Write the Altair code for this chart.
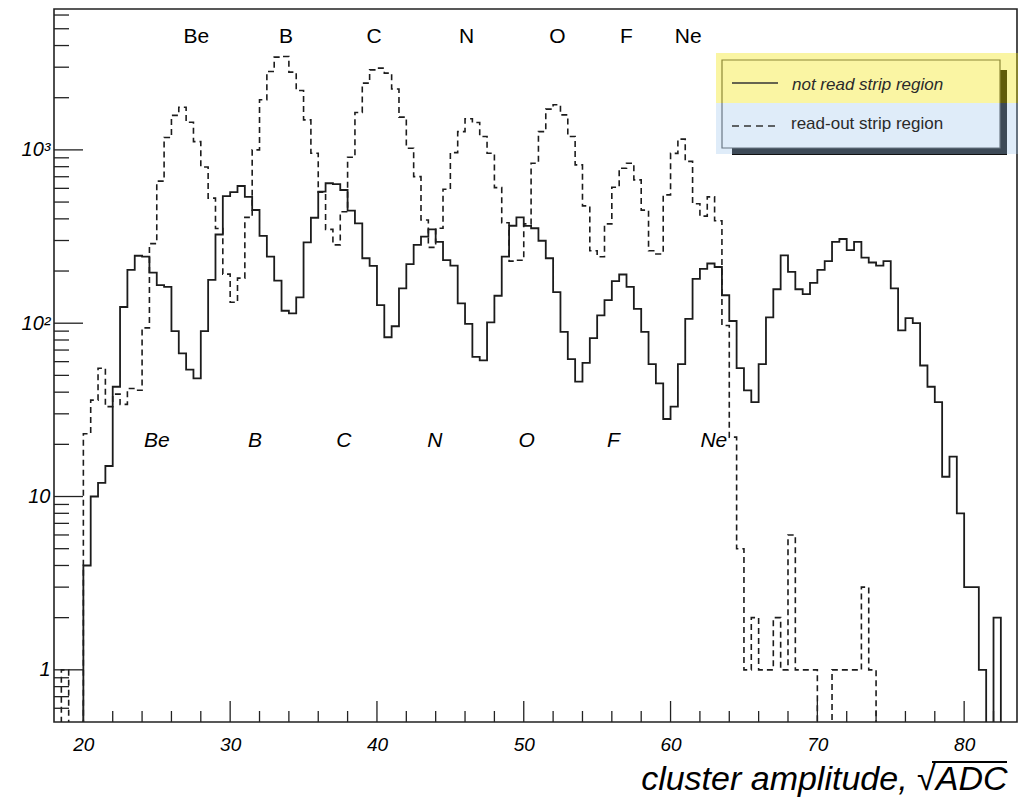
import altair as alt
import pandas as pd

# ---------------- data ----------------
BIN0 = 18.0
BINW = 0.5
solid_counts = [
    0, 0, 0, 0, 4, 10, 12, 15, 43, 124,
    203, 245, 242, 196, 166, 162, 90, 67, 54, 48,
    90, 178, 325, 541, 571, 619, 536, 450, 319, 242,
    176, 118, 114, 141, 293, 406, 574, 642, 634, 587,
    446, 377, 237, 214, 127, 83, 96, 159, 219, 283,
    316, 348, 295, 231, 215, 130, 99, 64, 61, 101,
    144, 242, 365, 408, 364, 353, 299, 237, 151, 89,
    62, 46, 59, 82, 111, 136, 175, 191, 162, 121,
    89, 58, 45, 28, 33, 58, 106, 180, 206, 221,
    211, 145, 103, 55, 41, 35, 58, 108, 157, 246,
    198, 157, 147, 171, 203, 228, 295, 306, 264, 295,
    239, 224, 215, 228, 159, 91, 107, 100, 57, 43,
    35, 13, 17, 8, 3, 3, 1, 0, 2, 0,
    0,
]
dashed_counts = [
    0, 1, 0, 0, 23, 36, 55, 33, 39, 34,
    42, 41, 94, 288, 660, 1178, 1582, 1761, 1443, 1116,
    796, 527, 352, 192, 132, 182, 408, 1000, 1945, 2833,
    3428, 3458, 2810, 2202, 1490, 957, 570, 348, 283, 440,
    907, 1643, 2428, 2897, 2964, 2773, 2244, 1545, 1023, 701,
    394, 274, 353, 593, 964, 1275, 1511, 1438, 1195, 957,
    606, 380, 228, 231, 374, 838, 1275, 1718, 1820, 1592,
    1195, 819, 475, 262, 242, 374, 609, 784, 838, 671,
    449, 262, 251, 550, 955, 1154, 858, 489, 415, 536,
    390, 97, 22, 5, 1, 2, 1, 1, 2, 1,
    6, 1, 1, 1, 0, 0, 1, 1, 1, 1,
    3, 1, 0, 0, 0, 0, 0, 0, 0, 0,
    0, 0, 0, 0, 0, 0, 0, 0, 0, 0,
    0,
]

top_labels = ["Be", "B", "C", "N", "O", "F", "Ne"]
top_x = [27.7, 33.8, 39.8, 46.1, 52.3, 57.0, 61.2]
top_y = 4500
bottom_labels = ["Be", "B", "C", "N", "O", "F", "Ne"]
bottom_x = [25.0, 31.7, 37.75, 43.95, 50.2, 56.1, 62.95]
bottom_y = 21

x_major = [20, 30, 40, 50, 60, 70, 80]
x_minor = [22, 24, 26, 28, 32, 34, 36, 38, 42, 44, 46, 48, 52, 54, 56, 58,
           62, 64, 66, 68, 72, 74, 76, 78, 82]
y_major = [1, 10, 100, 1000]
y_minor = [0.6, 0.7, 0.8, 0.9, 2, 3, 4, 5, 6, 7, 8, 9,
           20, 30, 40, 50, 60, 70, 80, 90,
           200, 300, 400, 500, 600, 700, 800, 900,
           2000, 3000, 4000, 5000, 6000]

legend_labels = ["not read strip region", "read-out strip region"]

# ---------------- layout ----------------
W, H = 963, 713
X_DOMAIN = [18, 83.6]
Y_DOMAIN = [0.5, 6500]
FONT = "Liberation Sans"


def hist_frame(counts):
    n = len(counts)
    xs = [BIN0 + BINW * i for i in range(n)] + [BIN0 + BINW * n]
    cs = list(counts) + [counts[-1]]
    return pd.DataFrame({"amp": xs, "count": cs})


xscale = alt.Scale(domain=X_DOMAIN, nice=False, zero=False)
yscale = alt.Scale(type="log", domain=Y_DOMAIN, nice=False)

xaxis = alt.Axis(
    values=x_major, ticks=False, domain=False, grid=False,
    labelFont=FONT, labelFontStyle="italic", labelFontSize=19, labelColor="black",
    labelPadding=13, labelFlush=False,
    title="cluster amplitude, √ADC", titleFont=FONT, titleFontStyle="italic",
    titleFontWeight="normal", titleFontSize=34, titleColor="black",
    titleAnchor="end", titleAlign="right", titleX=953, titleY=67,
    titleBaseline="alphabetic",
)
yaxis = alt.Axis(
    values=y_major, ticks=False, domain=False, grid=False,
    labelExpr="datum.value == 1000 ? '10³' : (datum.value == 100 ? '10²' : (datum.value == 10 ? '10' : '1'))",
    labelFont=FONT, labelFontStyle="italic", labelFontSize=20, labelColor="black",
    labelPadding=4, labelFlush=False, title="",
)


def X(field):
    return alt.X(field, scale=xscale, axis=xaxis)


def Y(field):
    return alt.Y(field, scale=yscale, axis=yaxis)


plot_y = "datum.count > 0 ? datum.count : 0.05"

solid = alt.Chart(hist_frame(solid_counts)).transform_calculate(
    v=plot_y
).mark_line(
    interpolate="step-after", clip=True, color="#1c1c1c", strokeWidth=1.8
).encode(x=X("amp:Q"), y=Y("v:Q"))

dashed = alt.Chart(hist_frame(dashed_counts)).transform_calculate(
    v=plot_y
).mark_line(
    interpolate="step-after", clip=True, color="#1c1c1c", strokeWidth=1.6,
    strokeDash=[6, 4],
).encode(x=X("amp:Q"), y=Y("v:Q"))

# inside ticks (ROOT style)
xmaj = alt.Chart(pd.DataFrame({"amp": x_major})).mark_rule(color="#222", strokeWidth=1.3).encode(
    x=X("amp:Q"), y=alt.value(H - 21), y2=alt.value(H))
xmin = alt.Chart(pd.DataFrame({"amp": x_minor})).mark_rule(color="#222", strokeWidth=1.3).encode(
    x=X("amp:Q"), y=alt.value(H - 11), y2=alt.value(H))
ymaj = alt.Chart(pd.DataFrame({"v": y_major})).mark_rule(color="#222", strokeWidth=1.3).encode(
    y=Y("v:Q"), x=alt.value(0), x2=alt.value(29))
ymin = alt.Chart(pd.DataFrame({"v": y_minor})).mark_rule(color="#222", strokeWidth=1.3).encode(
    y=Y("v:Q"), x=alt.value(0), x2=alt.value(15))

# element labels
top_txt = alt.Chart(pd.DataFrame({"lab": top_labels, "amp": top_x, "v": [top_y] * len(top_x)})).mark_text(
    font=FONT, fontSize=21, color="black", baseline="middle", align="center"
).encode(x=X("amp:Q"), y=Y("v:Q"), text="lab:N")
bot_txt = alt.Chart(pd.DataFrame({"lab": bottom_labels, "amp": bottom_x, "v": [bottom_y] * len(bottom_x)})).mark_text(
    font=FONT, fontSize=21, fontStyle="italic", color="black", baseline="middle", align="center"
).encode(x=X("amp:Q"), y=Y("v:Q"), text="lab:N")

# sqrt overline on the axis title
one = pd.DataFrame({"k": [0]})
overline = alt.Chart(one).mark_rule(color="black", strokeWidth=2).encode(
    x=alt.value(878), x2=alt.value(953), y=alt.value(753))

# legend box (shadow, box, highlighter bands)
shadow = alt.Chart(one).mark_rect(color="#111111").encode(
    x=alt.value(678), x2=alt.value(953), y=alt.value(61), y2=alt.value(146))
box = alt.Chart(one).mark_rect(fill="white", stroke="#555555", strokeWidth=1.2).encode(
    x=alt.value(668), x2=alt.value(946), y=alt.value(51), y2=alt.value(139))
yellow = alt.Chart(one).mark_rect(color="#f0e400", opacity=0.36).encode(
    x=alt.value(662), x2=alt.value(964), y=alt.value(44), y2=alt.value(94))
blue = alt.Chart(one).mark_rect(color="#9dc3ec", opacity=0.32).encode(
    x=alt.value(662), x2=alt.value(964), y=alt.value(94), y2=alt.value(145))
leg_solid = alt.Chart(one).mark_rule(color="#333", strokeWidth=1.3).encode(
    x=alt.value(678), x2=alt.value(724), y=alt.value(74))
leg_dash = alt.Chart(one).mark_rule(color="#333", strokeWidth=1.3, strokeDash=[7, 5]).encode(
    x=alt.value(678), x2=alt.value(724), y=alt.value(117))
leg_t1 = alt.Chart(pd.DataFrame({"t": [legend_labels[0]]})).mark_text(
    font=FONT, fontSize=17, fontStyle="italic", color="#2a2a2a", align="left", baseline="middle"
).encode(x=alt.value(738), y=alt.value(76), text="t:N")
leg_t2 = alt.Chart(pd.DataFrame({"t": [legend_labels[1]]})).mark_text(
    font=FONT, fontSize=17, color="#2a2a2a", align="left", baseline="middle"
).encode(x=alt.value(737), y=alt.value(115), text="t:N")

chart = alt.layer(
    dashed, solid, xmaj, xmin, ymaj, ymin, top_txt, bot_txt, overline,
    shadow, box, yellow, blue, leg_solid, leg_dash, leg_t1, leg_t2,
).properties(
    width=W, height=H,
    padding={"left": 54, "top": 9, "right": 9, "bottom": 80},
    autosize=alt.AutoSizeParams(type="none"),
    background="white",
).configure_view(
    stroke="#222222", strokeWidth=1.6
)

chart.save("out.html", embed_options={"renderer": "svg", "actions": False})
